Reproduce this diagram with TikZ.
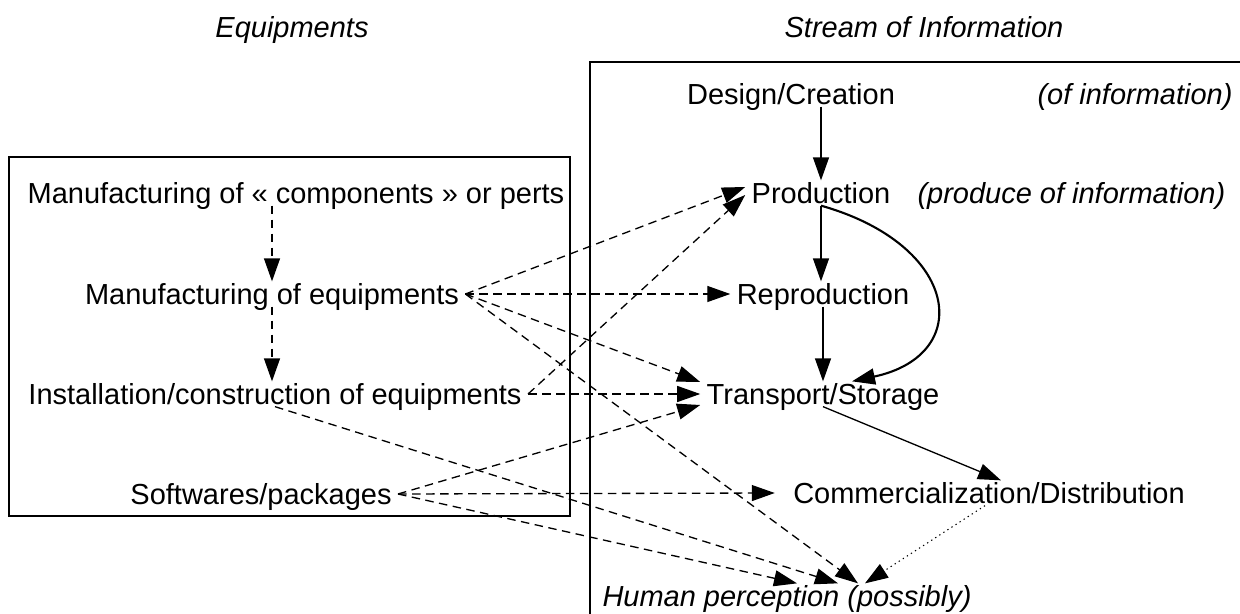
\documentclass[tikz,border=0pt]{standalone}
\usepackage{fontspec}
\setmainfont{Liberation Sans}
\usetikzlibrary{arrows.meta,calc}

\begin{document}
\begin{tikzpicture}[x=0.02cm,y=-0.02cm,
  lbl/.style={font=\fontsize{16.5}{20}\selectfont,inner xsep=3.5pt,inner ysep=1pt,text height=12pt,text depth=0pt},
  note/.style={lbl,font=\fontsize{16.5}{20}\selectfont\itshape},
  frame/.style={line width=1.1pt},
  flow/.style={-{Triangle[length=4.6mm,width=3.2mm]},line width=0.75pt},
  feed/.style={flow,dash pattern=on 1.7mm off 1.1mm},
  hint/.style={flow,dotted,line width=0.6pt}]
  \useasboundingbox (0,0) rectangle (1240,614);
  % headings
  \node[note] (hdequip)  at (292,27) {Equipments};
  \node[note] (hdstream) at (924,27) {Stream of Information};
  % frames
  \draw[frame] (9,157) rectangle (570,516);
  \draw[frame] (590,614) -- (590,62) -- (1240,62);
  % stream of information
  \node[lbl] (des)   at (791,94)  {Design/Creation};
  \node[note,anchor=east] (ofinfo) at (1239,94) {(of information)};
  \node[lbl] (prod)  at (821,193) {Production};
  \node[note,anchor=west] (prodinfo) at (911,193) {(produce of information)};
  \node[lbl] (repro) at (823,294) {Reproduction};
  \node[lbl] (trans) at (823,394) {Transport/Storage};
  \node[lbl] (comm)  at (989,493) {Commercialization/Distribution};
  \node[note,anchor=west] (hum) at (596,596) {Human perception (possibly)};
  % equipments
  \node[lbl] (mcomp)  at (296,193) {Manufacturing of « components » or perts};
  \node[lbl] (mequip) at (272,294) {Manufacturing of equipments};
  \node[lbl] (inst)   at (275,394) {Installation/construction of equipments};
  \node[lbl] (soft)   at (261,494) {Softwares/packages};
  % solid chain
  \draw[flow] (des.south -| prod.north) -- (prod.north);
  \draw[flow] (prod.south) -- (prod.south |- repro.north);
  \draw[flow] (repro.south) -- (repro.south |- trans.north);
  \draw[flow,line width=1.2pt] (prod.south) .. controls (960,245) and (975,355) .. ($(trans.north)+(29,0)$);
  \draw[flow] (trans.south) -- ($(comm.north)+(12,0)$);
  \draw[hint] ($(comm.south)+(-4,0)$) -- ($(hum.north)+(78,0)$);
  % equipments inside
  \draw[feed] (mcomp.south -| mequip.north) -- (mequip.north);
  \draw[feed] (mequip.south) -- (mequip.south |- inst.north);
  % equipments to stream
  \draw[feed] (mequip.east) -- ($(prod.west)+(0,-6)$);
  \draw[feed] (mequip.east) -- (repro.west);
  \draw[feed] (mequip.east) -- ($(trans.west)+(0,-12)$);
  \draw[feed] (mequip.east) -- ($(hum.north)+(71,0)$);
  \draw[feed] (inst.east) -- ($(prod.west)+(0,2)$);
  \draw[feed] (inst.east) -- (trans.west);
  \draw[feed] (inst.south) -- ($(hum.north)+(51,0)$);
  \draw[feed] (soft.east) -- ($(trans.west)+(0,11)$);
  \draw[feed] (soft.east) -- ($(comm.west)+(-12,0)$);
  \draw[feed] (soft.east) -- ($(hum.north)+(10,0)$);
\end{tikzpicture}
\end{document}
